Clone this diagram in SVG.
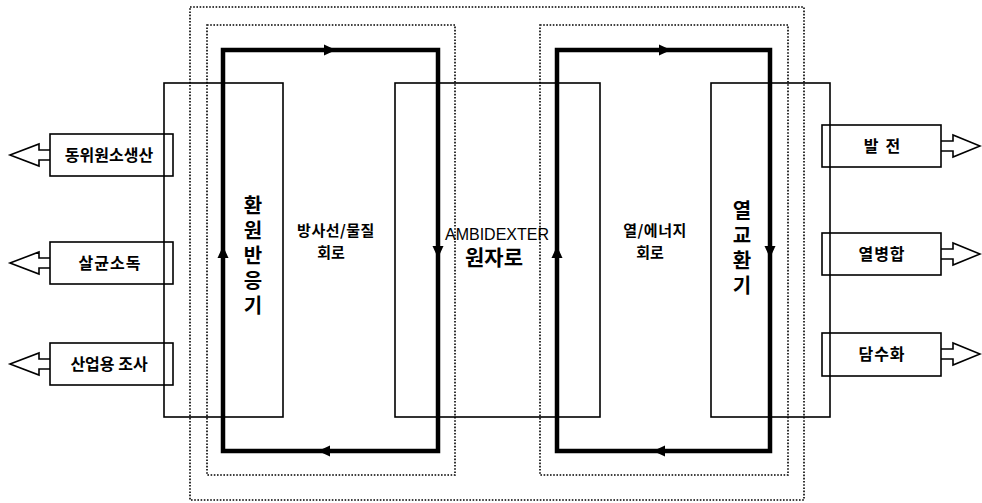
<svg xmlns="http://www.w3.org/2000/svg" width="982" height="503" viewBox="0 0 982 503">
<defs>
<style>
.thin{fill:none;stroke:#000;stroke-width:1.6}
.thick{fill:none;stroke:#000;stroke-width:4.5}
.dot{fill:none;stroke:#000;stroke-width:1.6;stroke-dasharray:1.6 1.6}
.t{font-family:"Noto Sans CJK KR","Noto Sans",sans-serif;font-weight:bold;fill:#000;text-anchor:middle}
.s16{font-size:16px}
.s15{font-size:15px}
.s20{font-size:21px}
.v{font-family:"Noto Sans CJK KR","Noto Sans",sans-serif;font-weight:bold;font-size:20px;fill:#000;text-anchor:middle;writing-mode:vertical-rl;text-orientation:upright;letter-spacing:5px}
.en{font-family:"Liberation Sans",Arial,sans-serif;font-size:16px;fill:#000;text-anchor:middle}
</style>
</defs>
<rect width="982" height="503" fill="#fff"/>
<g id="dotted-frames">
<rect class="dot" x="190" y="7" width="614" height="493"/>
<rect class="dot" x="207" y="25" width="248" height="450"/>
<rect class="dot" x="540" y="25" width="248" height="450"/>
</g>
<g id="panels">
<rect id="left-panel" class="thin" x="164" y="83" width="119" height="334"/>
<rect id="center-panel" class="thin" x="395" y="83" width="205" height="334"/>
<rect id="right-panel" class="thin" x="711" y="83" width="119" height="334"/>
</g>
<g id="connectors">
<rect class="thick" x="223" y="50" width="215" height="401"/>
<rect class="thick" x="557" y="50" width="213" height="401"/>
<polygon points="336,50 324,44.5 324,55.5" fill="#000"/>
<polygon points="318,451 330,445.5 330,456.5" fill="#000"/>
<polygon points="223,246 217.5,258 228.5,258" fill="#000"/>
<polygon points="438,258 432.5,246 443.5,246" fill="#000"/>
<polygon points="671,50 659,44.5 659,55.5" fill="#000"/>
<polygon points="653,451 665,445.5 665,456.5" fill="#000"/>
<polygon points="557,246 551.5,258 562.5,258" fill="#000"/>
<polygon points="770,258 764.5,246 775.5,246" fill="#000"/>
</g>
<g id="node-reduction">
<text class="v" x="253" y="258">환원반응기</text>
</g>
<g id="node-rad-circuit">
<text class="t s15" x="336" y="236" letter-spacing="0.5">방사선/물질</text>
<text class="t s15" x="331" y="258">회로</text>
</g>
<g id="node-reactor">
<text class="en" x="497" y="240">AMBIDEXTER</text>
<text class="t s20" x="494" y="265">원자로</text>
</g>
<g id="node-heat-circuit">
<text class="t s15" x="655" y="236" letter-spacing="0.5">열/에너지</text>
<text class="t s15" x="650" y="258">회로</text>
</g>
<g id="node-heat-exchanger">
<text class="v" x="742" y="250">열교환기</text>
</g>
<g id="node-isotope">
<rect class="thin" x="50" y="134" width="123" height="42"/>
<path class="thin" d="M50,150 H39 V144 L10,155 L39,166 V160 H50"/>
<text class="t s16" x="109" y="161">동위원소생산</text>
</g>
<g id="node-sterilize">
<rect class="thin" x="50" y="242" width="123" height="42"/>
<path class="thin" d="M50,258 H39 V252 L10,263 L39,274 V268 H50"/>
<text class="t s16" x="110" y="269" letter-spacing="1">살균소독</text>
</g>
<g id="node-irradiation">
<rect class="thin" x="50" y="343" width="123" height="42"/>
<path class="thin" d="M50,359 H39 V353 L10,364 L39,375 V369 H50"/>
<text class="t s16" x="109" y="370">산업용 조사</text>
</g>
<g id="node-power">
<rect class="thin" x="822" y="125" width="119" height="42"/>
<path class="thin" d="M941,141 H953 V135 L980,146 L953,157 V151 H941"/>
<text class="t s16" x="882" y="152" xml:space="preserve">발  전</text>
</g>
<g id="node-cogeneration">
<rect class="thin" x="822" y="233" width="119" height="42"/>
<path class="thin" d="M941,249 H953 V243 L980,254 L953,265 V259 H941"/>
<text class="t s16" x="882" y="260" letter-spacing="1">열병합</text>
</g>
<g id="node-desalination">
<rect class="thin" x="822" y="333" width="119" height="43"/>
<path class="thin" d="M941,349 H953 V343 L980,354 L953,365 V359 H941"/>
<text class="t s16" x="882" y="360" letter-spacing="1">담수화</text>
</g>
</svg>
